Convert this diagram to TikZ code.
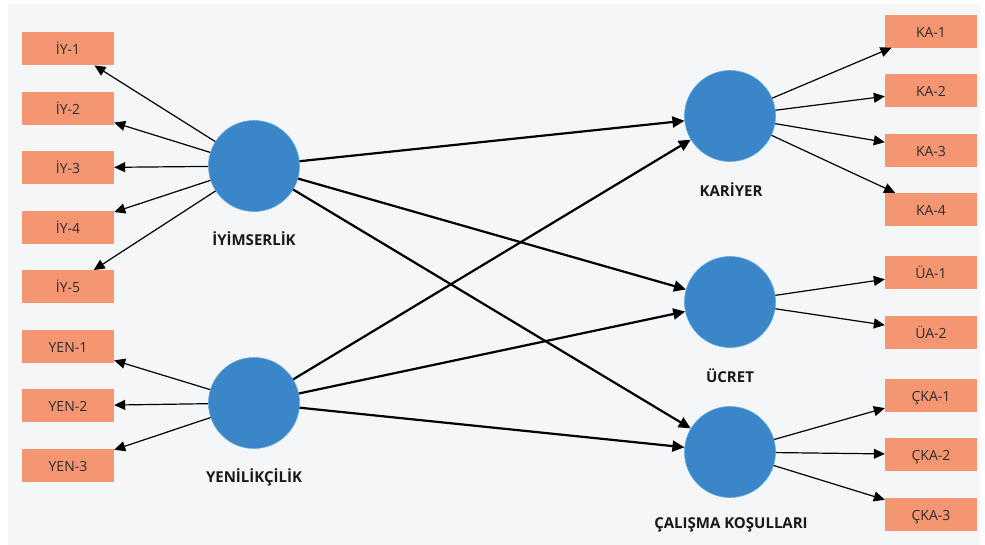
\documentclass[tikz,border=0pt]{standalone}
\usepackage{fontspec}
\setmainfont{Open Sans}
\usetikzlibrary{matrix,positioning,arrows.meta}
\definecolor{myblue}{RGB}{58,134,200}
\definecolor{myrim}{RGB}{95,170,225}
\definecolor{mysalmon}{RGB}{245,150,115}
\definecolor{mygray}{RGB}{245,246,247}
\definecolor{mytext}{RGB}{45,45,45}

\begin{document}
\begin{tikzpicture}[x=1pt,y=-1pt,
  imat/.style={matrix of nodes,row sep=26.5pt,
    nodes={fill=mysalmon,minimum width=92pt,minimum height=33pt,inner sep=0pt,
      text height=12pt,text depth=0pt,font=\fontsize{14}{16}\selectfont,text=mytext}},
  lvnode/.style={circle,fill=myblue,draw=myrim,line width=0.6pt,minimum size=91pt,inner sep=0pt},
  lvname/.style={font=\bfseries\fontsize{15}{18}\selectfont,text=black!90},
  loadarrow/.style={line width=1.2pt,-{Triangle[length=11pt,width=10pt]}},
  relarrow/.style={line width=2.2pt,-{Triangle[length=12pt,width=11pt]}}]

  \useasboundingbox (0,0) rectangle (985,545);
  \fill[mygray] (8,4) rectangle (980,545);

  % indicator columns
  \matrix[imat] (lmat) at (68,257) {İY-1\\ İY-2\\ İY-3\\ İY-4\\ İY-5\\
    YEN-1\\ YEN-2\\ YEN-3\\};

  \matrix[imat] (rmat) at (931,272.5) {KA-1\\ KA-2\\ KA-3\\ KA-4\\[3.5pt]
    ÜA-1\\ ÜA-2\\[3.5pt]
    ÇKA-1\\ ÇKA-2\\ ÇKA-3\\};

  % latent variables
  \node[lvnode] (iyi) at (254,166) {};
  \node[lvnode] (yen) at (254,403) {};
  \node[lvnode] (kar) at (730,116) {};
  \node[lvnode] (ucr) at (730,302) {};
  \node[lvnode] (cal) at (730,452) {};

  \node[lvname] (iyilbl) at (254,239) {İYİMSERLİK};
  \node[lvname] (yenlbl) at (254,477) {YENİLİKÇİLİK};
  \node[lvname] (karlbl) at (731,190) {KARİYER};
  \node[lvname] (ucrlbl) at (730,376) {ÜCRET};
  \node[lvname] (callbl) at (731,525) {ÇALIŞMA KOŞULLARI};

  % draw legs for left side
  \foreach \i in {1,...,5} \draw[loadarrow] (iyi) -- (lmat-\i-1);
  \foreach \i in {6,7,8} \draw[loadarrow] (yen) -- (lmat-\i-1);

  % draw legs for right side
  \foreach \i in {1,...,4} \draw[loadarrow] (kar) -- (rmat-\i-1);
  \foreach \i in {5,6} \draw[loadarrow] (ucr) -- (rmat-\i-1);
  \foreach \i in {7,8,9} \draw[loadarrow] (cal) -- (rmat-\i-1);

  % paths between latent variables
  \draw[relarrow] (iyi) edge (kar) edge (ucr) edge (cal)
  (yen) edge (kar) edge (ucr) edge (cal);

\end{tikzpicture}
\end{document}
